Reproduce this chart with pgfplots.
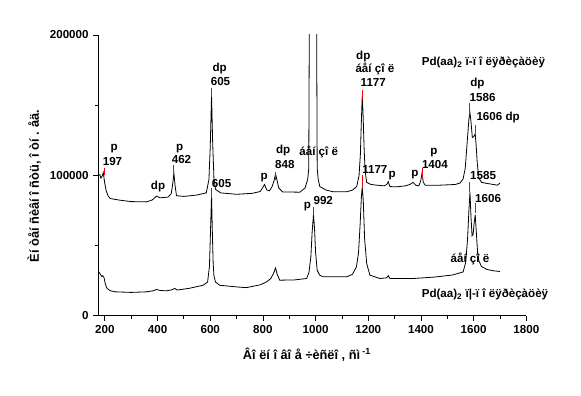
\documentclass[border=0pt]{standalone}
\usepackage{fontspec}
\setmainfont{Liberation Sans}
\usepackage{pgfplots}
\pgfplotsset{compat=1.18}
\newcommand{\lab}{\bfseries\fontsize{8.7}{9}\selectfont}
\newcommand{\ttl}{\bfseries\fontsize{9.6}{10}\selectfont}
\begin{document}
\begin{tikzpicture}
\begin{axis}[
  scale only axis, width=321pt, height=210.5pt,
  xmin=175, xmax=1800, ymin=0, ymax=200000,
  axis x line*=bottom, axis y line*=left,
  axis line style={-, line width=0.7pt},
  xtick={200,400,...,1800}, ytick={0,100000,200000},
  yticklabels={0,100000,200000},
  minor x tick num=1, minor y tick num=1,
  tick align=outside, major tick length=3.75pt, minor tick length=2.25pt,
  tick style={line width=0.6pt, black},
  scaled y ticks=false,
  /pgf/number format/fixed,
  /pgf/number format/set thousands separator={},
  /pgf/number format/assume math mode=true,
  tick label style={font=\lab},
  clip mode=individual,
]
\addplot[black, line width=0.6pt] table {
176 100000
181 100500
185 98000
190 99500
194 102000
199 95000
205 89000
212 85500
220 83500
257 82300
300 81300
358 81100
380 82500
396 85200
410 84000
440 84500
452 87000
457 93000
462 101500
467 92000
472 85500
500 85000
550 86000
585 87500
595 97000
600 120000
605 157000
609 125000
614 98000
620 90000
640 87500
700 86500
760 87200
790 88500
800 91500
806 93500
815 89500
825 89000
835 92000
842 96000
848 101000
853 97000
860 91000
875 88200
940 88000
960 91000
970 97000
974 105000
977 250000
990 420000
1003 250000
1006 105000
1010 97000
1016 92000
1040 89500
1067 88300
1118 88300
1140 89500
1156 92000
1165 100000
1170 115000
1174 140000
1177 156500
1180 145000
1184 120000
1188 103000
1194 95000
1210 93500
1232 93000
1260 92500
1270 93500
1276 95500
1282 92000
1307 91800
1340 92500
1358 93500
1370 95000
1380 93000
1392 92500
1399 96000
1404 101500
1409 95000
1416 93000
1472 93000
1530 93500
1548 94500
1560 97500
1568 105000
1576 125000
1582 140000
1586 144500
1590 138000
1595 127000
1600 127500
1606 129500
1610 120000
1614 108000
1620 98000
1630 95000
1649 94300
1675 93500
1690 93000
1700 94500
};
\addplot[black, line width=0.6pt] table {
176 31500
183 29500
188 28000
192 28500
197 27000
202 22500
208 19500
220 17800
240 17000
300 16600
358 17000
385 17800
396 18700
410 18000
434 17700
455 18500
465 19400
475 18300
520 19500
573 21700
590 24000
597 35000
601 60000
605 86000
608 60000
611 38000
614 28500
620 24000
636 21700
700 20500
737 20000
790 22000
814 24100
830 26500
840 30000
848 34000
854 29500
864 25300
920 25500
966 26500
975 31000
982 42000
987 60000
992 72000
996 62000
1000 45000
1006 32400
1015 29000
1029 27700
1118 27700
1140 29500
1155 34800
1163 45000
1169 65000
1174 85000
1177 91500
1181 82000
1186 55000
1194 37200
1206 28900
1244 26500
1270 27000
1276 28500
1282 26500
1370 26500
1450 27500
1520 29000
1560 31200
1570 38000
1577 55000
1582 75000
1586 88000
1590 70000
1594 57000
1598 58000
1602 66000
1606 72000
1610 60000
1615 45000
1620 39000
1630 35000
1650 33000
1675 32000
1700 31500
};
% red markers
\draw[red, line width=0.7pt] (axis cs:197,100200) -- (axis cs:197,105500);
\draw[red, line width=0.7pt] (axis cs:462,100200) -- (axis cs:462,107300);
\draw[red, line width=0.7pt] (axis cs:605,156000) -- (axis cs:605,162200);
\draw[red, line width=0.7pt] (axis cs:605,83800) -- (axis cs:605,90900);
\draw[red, line width=0.7pt] (axis cs:848,96500) -- (axis cs:848,102500);
\draw[red, line width=0.7pt] (axis cs:992,71700) -- (axis cs:992,77600);
\draw[red, line width=0.7pt] (axis cs:1177,153600) -- (axis cs:1177,160800);
\draw[red, line width=0.7pt] (axis cs:1177,91500) -- (axis cs:1177,100200);
\draw[red, line width=0.7pt] (axis cs:1404,97800) -- (axis cs:1404,105000);
\draw[red, line width=0.7pt] (axis cs:1586,144200) -- (axis cs:1586,151300);
\draw[red, line width=0.7pt] (axis cs:1606,128700) -- (axis cs:1606,135800);
\draw[red, line width=0.7pt] (axis cs:1586,88300) -- (axis cs:1586,95400);
\draw[red, line width=0.7pt] (axis cs:1606,72900) -- (axis cs:1606,80000);
% annotations
\node[font=\lab] at (axis cs:235,119200) {p};
\node[font=\lab] at (axis cs:229,110200) {197};
\node[font=\lab] at (axis cs:484,119200) {p};
\node[font=\lab] at (axis cs:491,111400) {462};
\node[font=\lab] at (axis cs:402,92300) {dp};
\node[font=\lab] at (axis cs:636,176300) {dp};
\node[font=\lab] at (axis cs:639,166700) {605};
\node[font=\lab] at (axis cs:643,94300) {605};
\node[font=\lab] at (axis cs:805,98500) {p};
\node[font=\lab] at (axis cs:877,117500) {dp};
\node[font=\lab] at (axis cs:883,108000) {848};
\node[font=\lab] at (axis cs:1012,116600) {áåí çî ë};
\node[font=\lab] at (axis cs:969,77600) {p};
\node[font=\lab] at (axis cs:1029,81900) {992};
\node[font=\lab] at (axis cs:1181,184500) {dp};
\node[font=\lab] at (axis cs:1225,175500) {áåí çî ë};
\node[font=\lab] at (axis cs:1219,166000) {1177};
\node[font=\lab] at (axis cs:1225,104200) {1177};
\node[font=\lab] at (axis cs:1291,99500) {p};
\node[font=\lab] at (axis cs:1377,100900) {p};
\node[font=\lab] at (axis cs:1449,116100) {p};
\node[font=\lab] at (axis cs:1453,108000) {1404};
\node[font=\lab] at (axis cs:1614,165600) {dp};
\node[font=\lab] at (axis cs:1634,155300) {1586};
\node[font=\lab] at (axis cs:1693,141000) {1606 dp};
\node[font=\lab] at (axis cs:1636,100200) {1585};
\node[font=\lab] at (axis cs:1655,83600) {1606};
\node[font=\lab] at (axis cs:1586,40800) {áåí çî ë};
\node[font=\lab] at (axis cs:1637,180400) {Pd(aa)\textsubscript{2} ï-ï î ëÿðèçàöèÿ};
\node[font=\lab] at (axis cs:1643,15000) {Pd(aa)\textsubscript{2} ï|-ï î ëÿðèçàöèÿ};
% axis titles
\node[font=\ttl] at (axis description cs:0.4875,-0.14) {Âî ëí î âî å ÷èñëî , ñì\,\textsuperscript{-1}};
\node[font=\ttl, rotate=90] at (axis description cs:-0.150,0.462) {Èí òåí ñèâí î ñòü, î òí . åä.};
\end{axis}
\path[use as bounding box] ([xshift=-73.7pt,yshift=-59.5pt]current axis.south west) rectangle ([xshift=41pt,yshift=26.25pt]current axis.north east);
\end{tikzpicture}
\end{document}
